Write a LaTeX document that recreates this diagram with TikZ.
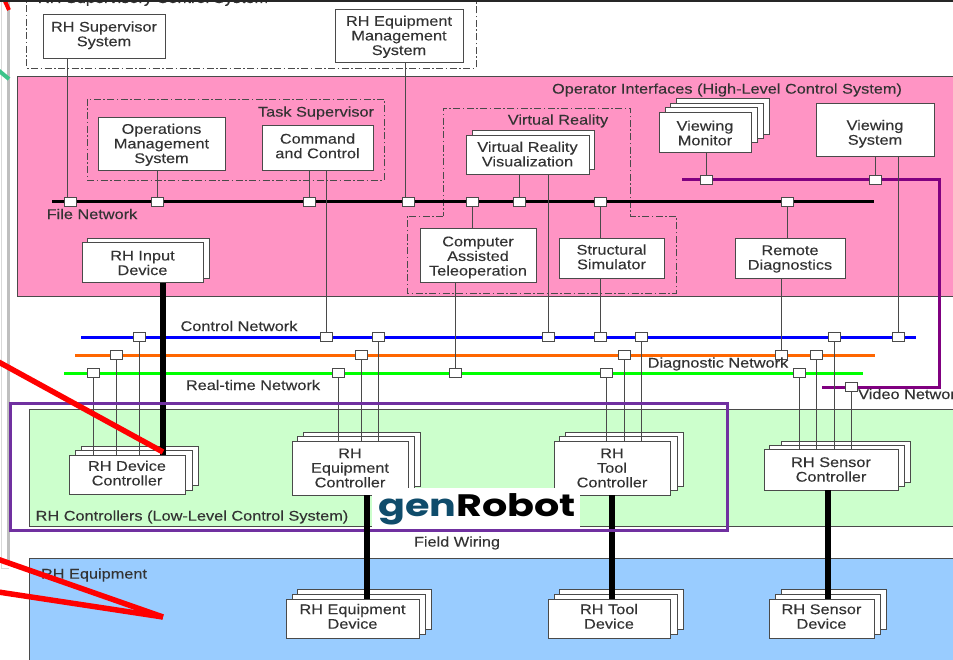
\documentclass[tikz,border=0pt]{standalone}
\usepackage{fontspec}
\setmainfont[FakeStretch=1.165,FakeBold=0.12]{Liberation Sans}
\newfontfamily\logofont[FakeStretch=1.28]{Poppins}
\usetikzlibrary{calc}
\definecolor{txt}{HTML}{333333}
\definecolor{edge}{HTML}{4A4A4A}
\definecolor{pinkbg}{HTML}{FF94C4}
\definecolor{greenbg}{HTML}{CCFFCC}
\definecolor{bluebg}{HTML}{99CCFF}
\definecolor{vid}{HTML}{800080}
\definecolor{frameP}{HTML}{7030A0}
\definecolor{teal}{HTML}{0F4C6B}
\definecolor{busorange}{HTML}{FF6600}
\definecolor{markgreen}{HTML}{3CC48A}
\tikzset{
  box/.style={draw=edge,fill=white,line width=1pt,inner sep=0pt,outer sep=0pt,align=center,text=txt,font=\fontsize{14}{14.6}\selectfont},
  stack/.style={draw=edge,fill=white,line width=1pt},
  lab/.style={inner sep=0pt,text=txt,font=\fontsize{14}{14.6}\selectfont,align=center},
  tap/.style={draw=edge,fill=white,line width=1pt,inner sep=0pt,outer sep=0pt,minimum width=12pt,minimum height=9.5pt},
  wire/.style={draw=edge,line width=1pt},
  thickwire/.style={draw=black,line width=5.5pt},
  region/.style={draw=edge,line width=1pt},
  dashgroup/.style={draw=edge,line width=.8pt,dash pattern=on 7pt off 2.5pt on 1.5pt off 2.5pt},
  bus/.style={line width=3pt},
}
\newcommand{\bx}[6]{\node[box,minimum width={(#4-#2)*1pt},minimum height={(#5-#3)*1pt}] (#1) at ({(#2+#4)/2},{(#3+#5)/2}) {#6};}
\newcommand{\sh}[4]{\draw[stack] (#1,#2) rectangle (#3,#4);}
\newcommand{\tp}[3]{\node[tap] (#1) at (#2,#3) {};}
\newcommand{\ts}[2]{\raisebox{#1}[\height][\depth]{\begin{tabular}{@{}c@{}}#2\end{tabular}}}
\begin{document}
\begin{tikzpicture}[x=1pt,y=-1pt]
\useasboundingbox (0,0) rectangle (953,660);
\begin{scope}
\clip (0,0) rectangle (953,660);
\fill[white] (0,0) rectangle (953,660);
% left page edge
\draw[draw=black!25,line width=3pt] (8.5,0) -- (8.5,565);
\draw[draw=black!15,line width=.6pt] (1,0) -- (1,568) -- (9,568);
% regions
\fill[pinkbg] (17,77) rectangle (960,297);
\draw[region] (960,77) -- (17,77) -- (17,297) -- (960,297);
\fill[greenbg] (29,409) rectangle (960,526);
\draw[region] (960,409) -- (29,409) -- (29,526) -- (960,526);
\fill[bluebg] (29,558) rectangle (960,665);
\draw[region] (960,558) -- (29,558) -- (29,665);
% dash-dot groups
\draw[dashgroup] (26,-8) rectangle (476,68);
\node[lab,anchor=base] (supgroup) at (153,3) {RH Supervisory Control System};
\draw[dashgroup] (87,99) rectangle (384,180);
\draw[dashgroup] (443,216) -- (407,216) -- (407,293) -- (676,293) -- (676,216) -- (630,216) -- (630,108) -- (443,108) -- cycle;
% buses
\coordinate (fileL) at (52,202); \coordinate (fileR) at (874,202);
\coordinate (ctlL) at (81,337); \coordinate (ctlR) at (916,337);
\coordinate (diaL) at (75,355); \coordinate (diaR) at (875,355);
\coordinate (rtL) at (64,373); \coordinate (rtR) at (863,373);
\coordinate (vidL) at (682,180); \coordinate (vidC) at (939,180); \coordinate (vidD) at (939,387); \coordinate (vidE) at (822,387);
\draw[bus,black] (fileL) -- (fileR);
\draw[bus,blue] (ctlL) -- (ctlR);
\draw[bus,busorange] (diaL) -- (diaR);
\draw[bus,green] (rtL) -- (rtR);
\draw[bus,vid] (vidL) -- (vidC) -- (vidD) -- (vidE);
% boxes
\bx{sup}{43}{15}{165}{59}{\ts{1pt}{RH Supervisor\\System}}
\bx{eqm}{335}{10}{463}{63}{\ts{-1pt}{RH Equipment\\Management\\System}}
\bx{ops}{98}{118}{225}{171}{\ts{-1pt}{Operations\\Management\\System}}
\bx{cmd}{262}{126}{373}{171}{\ts{.5pt}{Command\\and Control}}
\sh{87}{239}{209}{279}
\bx{inp}{82}{243}{203}{283}{RH Input\\Device}
\sh{472}{131}{594}{170}
\bx{vrv}{466}{136}{589}{175}{\ts{-.7pt}{Virtual Reality\\Visualization}}
\bx{cat}{420}{229}{536}{283}{\ts{-2pt}{Computer\\Assisted\\Teleoperation}}
\bx{sim}{559}{239}{664}{279}{\ts{0pt}{Structural\\Simulator}}
\bx{rem}{735}{239}{845}{279}{Remote\\Diagnostics}
\sh{676}{99}{769}{135}
\sh{670}{104}{763}{139}
\sh{665}{108}{757}{143}
\bx{mon}{659}{113}{751}{153}{Viewing\\Monitor}
\bx{vsy}{816}{104}{934}{157}{\ts{-4pt}{Viewing\\System}}
\sh{81}{446}{198}{485}
\sh{75}{450}{192}{490}
\bx{dev}{69}{455}{185}{494}{\ts{-.7pt}{RH Device\\Controller}}
\sh{303}{432}{420}{486}
\sh{297}{436}{414}{490}
\bx{eqc}{292}{441}{408}{495}{RH\\Equipment\\Controller}
\sh{565}{432}{683}{486}
\sh{559}{436}{677}{490}
\bx{toc}{554}{441}{670}{495}{RH\\Tool\\Controller}
\sh{781}{441}{910}{482}
\sh{769}{445}{904}{486}
\bx{sec}{764}{449}{898}{490}{RH Sensor\\Controller}
\sh{297}{589}{431}{629}
\sh{292}{594}{425}{634}
\bx{eqd}{286}{599}{419}{638}{\ts{0pt}{RH Equipment\\Device}}
\sh{559}{589}{683}{629}
\sh{554}{594}{677}{634}
\bx{tod}{548}{599}{670}{638}{\ts{0pt}{RH Tool\\Device}}
\sh{781}{589}{886}{629}
\sh{775}{594}{880}{634}
\bx{sed}{769}{599}{874}{638}{\ts{0pt}{RH Sensor\\Device}}
% taps
\tp{f1}{70}{202}\tp{f2}{157}{202}\tp{f3}{309}{202}\tp{f4}{408}{202}\tp{f5}{472}{202}\tp{f6}{519}{202}\tp{f7}{600}{202}\tp{f8}{787}{202}
\tp{v1}{706}{180}\tp{v2}{875}{180}\tp{v3}{851}{387}
\tp{c1}{139.5}{337}\tp{c2}{326}{337}\tp{c3}{378}{337}\tp{c4}{548}{337}\tp{c5}{600}{337}\tp{c6}{641}{337}\tp{c7}{834}{337}\tp{c8}{898}{337}
\tp{d1}{116}{355}\tp{d2}{361}{355}\tp{d3}{624}{355}\tp{d4}{781}{355}\tp{d5}{816}{355}
\tp{r1}{93}{373}\tp{r2}{338}{373}\tp{r3}{455}{373}\tp{r4}{606}{373}\tp{r5}{799}{373}
% wires
\draw[wire] ([xshift=-3pt]f1.north) -- ([xshift=-3pt]f1.north |- sup.south);
\draw[wire] (f2.north) -- (f2.north |- ops.south);
\draw[wire] (f3.north) -- (f3.north |- cmd.south);
\draw[wire] ([xshift=-3pt]f4.north) -- ([xshift=-3pt]f4.north |- eqm.south);
\draw[wire] (f5.south) -- (f5.south |- cat.north);
\draw[wire] (f6.north) -- (f6.north |- vrv.south);
\draw[wire] (f7.south) -- (f7.south |- sim.north);
\draw[wire] (f8.south) -- (f8.south |- rem.north);
\draw[wire] (v1.north) -- (v1.north |- mon.south);
\draw[wire] (v2.north) -- (v2.north |- vsy.south);
\draw[wire] (c2.north) -- (c2.north |- cmd.south);
\draw[wire] (c4.north) -- (c4.north |- vrv.south);
\draw[wire] (c5.north) -- (c5.north |- sim.south);
\draw[wire] (c8.north) -- (c8.north |- vsy.south);
\draw[wire] (d4.north) -- (d4.north |- rem.south);
\draw[wire] (r3.north) -- (r3.north |- cat.south);
\draw[wire] (r1.south) -- (r1.south |- dev.north);
\draw[wire] (d1.south) -- (d1.south |- dev.north);
\draw[wire] (c1.south) -- (c1.south |- dev.north);
\draw[wire] (r2.south) -- (r2.south |- eqc.north);
\draw[wire] (d2.south) -- (d2.south |- eqc.north);
\draw[wire] (c3.south) -- (c3.south |- eqc.north);
\draw[wire] (r4.south) -- (r4.south |- toc.north);
\draw[wire] (d3.south) -- (d3.south |- toc.north);
\draw[wire] (c6.south) -- (c6.south |- toc.north);
\draw[wire] (r5.south) -- (r5.south |- sec.north);
\draw[wire] (d5.south) -- (d5.south |- sec.north);
\draw[wire] (c7.south) -- (c7.south |- sec.north);
\draw[wire] (v3.south) -- (v3.south |- sec.north);
% heavy links
\draw[thickwire] ([xshift=20.5pt]inp.south) -- ([xshift=36pt]dev.north);
\draw[thickwire] (toc.south -| 612,0) -- (tod.north -| 612,0);
\draw[thickwire] (sec.south -| 828,0) -- (sed.north -| 828,0);
% labels
\node[lab] (l1) at (727,90) {Operator Interfaces (High-Level Control System)};
\node[lab] (l2) at (316,113) {Task Supervisor};
\node[lab] (l3) at (558,121) {Virtual Reality};
\node[lab] (l4) at (92,214) {File Network};
\node[lab] (l5) at (239,326) {Control Network};
\node[lab] (l6) at (253,385) {Real-time Network};
\node[lab] (l7) at (718,364) {Diagnostic Network};
\node[lab,anchor=west] (l8) at (858,394) {Video Network};
\node[lab] (l9) at (192,517) {RH Controllers (Low-Level Control System)};
\node[lab] (l10) at (94,575) {RH Equipment};
\node[lab] (l11) at (457,543) {Field Wiring};
% purple frame and logo block
\draw[draw=frameP,line width=3pt] (10,403) rectangle (727,530);
\fill[white] (372,488) rectangle (580,528.5);
\draw[thickwire] (eqc.south -| 367,0) -- (eqd.north -| 367,0);
\node[inner sep=0pt,anchor=center,font=\logofont\bfseries\fontsize{31}{31}\selectfont] (logo) at (477,509) {\textcolor{teal}{gen}\textcolor{black}{Robot}};
% red strokes
\draw[red,line width=4pt] (4,-1) -- (9,10);
\draw[markgreen,line width=4pt] (-2,70) -- (9,79);
\draw[red,line width=5.5pt] (-5,360) -- (163,452);
\draw[red,line width=5.5pt] (-5,558.2) -- (163,617);
\draw[red,line width=5.5pt] (-5,591.5) -- (163,617);
% top strip
\fill[black!85] (0,0) rectangle (953,2);
\end{scope}
\end{tikzpicture}
\end{document}
